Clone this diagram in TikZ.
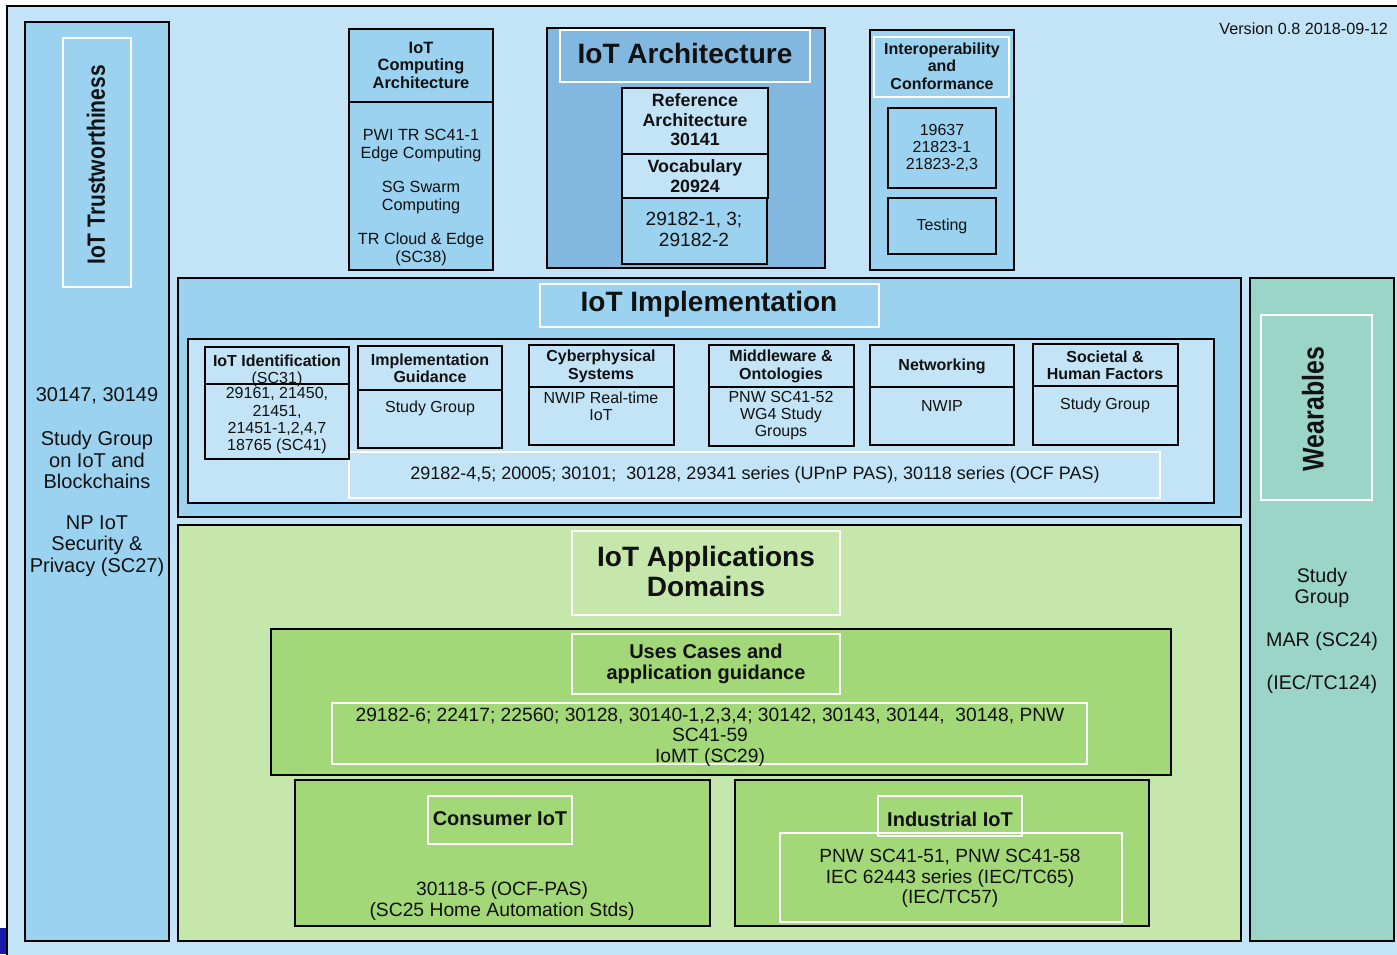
\documentclass[tikz,border=0pt]{standalone}
\usepackage{fontspec}
\setmainfont{Liberation Sans}
\usepackage{graphicx}

\definecolor{bgblue}{HTML}{C2E4F6}
\definecolor{midblue}{HTML}{9BD2F0}
\definecolor{archblue}{HTML}{82B8E0}
\definecolor{lightgreen}{HTML}{C6E7AC}
\definecolor{appgreen}{HTML}{A3D878}
\definecolor{wearteal}{HTML}{9BD5C8}
\definecolor{ink}{HTML}{111111}
\definecolor{cornerblue}{HTML}{1A1AA8}

\newcommand\fsz[2]{\fontsize{#1}{#2}\selectfont}

\begin{document}
\begin{tikzpicture}[x=1pt,y=-1pt,
  frame/.style={draw=black, line width=1.8pt, anchor=north west, inner sep=0pt, outer sep=0pt},
  wframe/.style={draw=white, line width=1.8pt, anchor=north west, inner sep=0pt, outer sep=0pt},
  sz/.style 2 args={minimum width=#1pt, minimum height=#2pt},
  lbl/.style={align=center, inner sep=0pt, text=ink, yshift=-2pt},
  head/.style={lbl, font=\bfseries\fsz{16}{17.3}},
  body/.style={lbl, font=\fsz{16}{17.3}},
  big/.style={lbl, yshift=0pt, font=\bfseries\fsz{28}{30}},
  midb/.style={lbl, yshift=0pt, font=\bfseries\fsz{20}{21}}]

\useasboundingbox (0,0) rectangle (1397,954);
\clip (0,0) rectangle (1397,954);
\fill[white] (0,0) rectangle (1397,954);

% outer frame
\node[frame, fill=bgblue, sz={1400}{960}] (outer) at (7,6) {};
\fill[cornerblue] (0,928) rectangle (6,954);

\node[lbl, anchor=east, font=\fsz{16.2}{18}] (version) at (1388,27) {Version 0.8 2018-09-12};

% ---- IoT Trustworthiness column
\node[frame, fill=midblue, sz={144}{919}] (trust) at (25,22) {};
\node[wframe, sz={68}{249}] (trusthead) at (63,38) {};
\node[lbl, rotate=90, yshift=0pt, font=\bfseries\fsz{25}{25}] (trusttitle) at (96,163) {\scalebox{0.84}[1]{IoT Trustworthiness}};
\node[lbl, font=\fsz{20}{21.5}] (trustA) at (97,394) {30147, 30149};
\node[lbl, font=\fsz{20}{21.5}] (trustB) at (97,458) {Study Group\\on IoT and\\Blockchains};
\node[lbl, font=\fsz{20}{21.5}] (trustC) at (97,544) {NP IoT\\Security \&\\Privacy (SC27)};

% ---- IoT Computing Architecture
\node[frame, fill=midblue, sz={144}{241}] (comp) at (349,29) {};
\node[frame, sz={144}{73}] (comphead) at (349,29) {};
\node[head, font=\bfseries\fsz{16.4}{17.5}] (comptitle) at (421,63) {IoT\\Computing\\Architecture};
\node[lbl, font=\fsz{16.2}{18}] (compbody) at (421,196)
  {PWI TR SC41-1\\Edge Computing\\[16pt]SG Swarm\\Computing\\[16pt]TR Cloud \& Edge\\(SC38)};

% ---- IoT Architecture
\node[frame, fill=archblue, sz={278}{240}] (arch) at (547,28) {};
\node[wframe, sz={250}{52}] (archhead) at (560,30) {};
\node[big] (archtitle) at (685,51) {IoT Architecture};
\node[frame, fill=bgblue, sz={146}{66}] (refarch) at (622,88) {};
\node[lbl, font=\bfseries\fsz{17.8}{19.5}] (refarchtxt) at (695,118) {Reference\\Architecture\\30141};
\node[frame, fill=bgblue, sz={146}{44}] (vocab) at (622,154) {};
\node[lbl, font=\bfseries\fsz{17.8}{19.5}] (vocabtxt) at (695,174) {Vocabulary\\20924};
\node[frame, fill=midblue, sz={145}{66}] (archstd) at (622,198) {};
\node[lbl, font=\fsz{19.1}{21}] (archstdtxt) at (694,227.5) {29182-1, 3;\\29182-2};

% ---- Interoperability and Conformance
\node[frame, fill=midblue, sz={144}{240}] (interop) at (870,30) {};
\node[wframe, sz={135}{60}] (interophead) at (874,37) {};
\node[head, font=\bfseries\fsz{16}{17.5}] (interoptitle) at (942,64) {Interoperability\\and\\Conformance};
\node[frame, sz={108}{80}] (interopstd) at (888,108) {};
\node[lbl, font=\fsz{16}{17}] (interopstdtxt) at (942,146) {19637\\21823-1\\21823-2,3};
\node[frame, sz={108}{56}] (testing) at (888,198) {};
\node[lbl, font=\fsz{16}{17}] (testingtxt) at (942,224) {Testing};

% ---- IoT Implementation
\node[frame, fill=midblue, sz={1063}{239}] (impl) at (178,278) {};
\node[wframe, sz={339}{43}] (implhead) at (540,284) {};
\node[big] (impltitle) at (709,302) {IoT Implementation};
\node[frame, fill=bgblue, sz={1026}{164}] (implinner) at (188,339) {};
\node[wframe, sz={811}{46}] (implstd) at (349,452) {};
\node[lbl, font=\fsz{18}{20}] (implstdtxt) at (755,473)
  {29182-4,5; 20005; 30101;\ \ 30128, 29341 series (UPnP PAS), 30118 series (OCF PAS)};

\node[frame, sz={144}{112}] (ident) at (205,347) {};
\node[frame, sz={144}{37}] (identhead) at (205,347) {};
\node[body] (identtitle) at (277,368.5) {\textbf{IoT Identification}\\(SC31)};
\node[body] (identtxt) at (277,419) {29161, 21450,\\21451,\\21451-1,2,4,7\\18765 (SC41)};

\node[frame, sz={144}{102}] (guide) at (358,346) {};
\node[frame, sz={144}{44}] (guidehead) at (358,346) {};
\node[head] (guidetitle) at (430,366.5) {Implementation\\Guidance};
\node[body] (guidetxt) at (430,406) {Study Group};

\node[frame, sz={145}{100}] (cps) at (529,345) {};
\node[frame, sz={145}{42}] (cpshead) at (529,345) {};
\node[head] (cpstitle) at (601,364.5) {Cyberphysical\\Systems};
\node[body] (cpstxt) at (601,404.5) {NWIP Real-time\\IoT};

\node[frame, sz={145}{101}] (mw) at (709,345) {};
\node[frame, sz={145}{42}] (mwhead) at (709,345) {};
\node[head] (mwtitle) at (781,364.5) {Middleware \&\\Ontologies};
\node[body] (mwtxt) at (781,413.5) {PNW SC41-52\\WG4 Study\\Groups};

\node[frame, sz={144}{100}] (net) at (870,345) {};
\node[frame, sz={144}{42}] (nethead) at (870,345) {};
\node[head] (nettitle) at (942,364) {Networking};
\node[body] (nettxt) at (942,404) {NWIP};

\node[frame, sz={145}{101}] (soc) at (1033,344) {};
\node[frame, sz={145}{42}] (sochead) at (1033,344) {};
\node[head] (soctitle) at (1105,363.5) {Societal \&\\Human Factors};
\node[body] (soctxt) at (1105,403) {Study Group};

% ---- IoT Applications Domains
\node[frame, fill=lightgreen, sz={1063}{416}] (apps) at (178,525) {};
\node[wframe, sz={268}{84}] (appshead) at (572,531) {};
\node[big] (appstitle) at (706,569) {IoT Applications\\Domains};

\node[frame, fill=appgreen, sz={900}{146}] (uses) at (271,629) {};
\node[wframe, sz={268}{60}] (useshead) at (572,634) {};
\node[midb] (usestitle) at (706,662) {Uses Cases and\\application guidance};
\node[wframe, sz={755}{61}] (usesstd) at (332,703) {};
\node[lbl, font=\fsz{19.2}{20.5}] (usesstdtxt) at (710,735)
  {29182-6; 22417; 22560; 30128, 30140-1,2,3,4; 30142, 30143, 30144,\ \ 30148, PNW\\SC41-59\\IoMT (SC29)};

\node[frame, fill=appgreen, sz={415}{146}] (cons) at (295,780) {};
\node[wframe, sz={144}{48}] (conshead) at (428,796) {};
\node[midb] (constitle) at (500,817) {Consumer IoT};
\node[lbl, font=\fsz{19.3}{21}] (constxt) at (502,898.5) {30118-5 (OCF-PAS)\\(SC25 Home Automation Stds)};

\node[frame, fill=appgreen, sz={414}{146}] (ind) at (735,780) {};
\node[wframe, sz={144}{40}] (indhead) at (878,796) {};
\node[wframe, sz={342}{89}] (indstd) at (780,833) {};
\node[midb] (indtitle) at (950,817) {Industrial IoT};
\node[lbl, font=\fsz{19.1}{20.5}] (indtxt) at (950,876.5)
  {PNW SC41-51, PNW SC41-58\\IEC 62443 series (IEC/TC65)\\(IEC/TC57)};

% ---- Wearables column
\node[frame, fill=wearteal, sz={144}{663}] (wear) at (1250,278) {};
\node[wframe, sz={111}{185}] (wearhead) at (1261,315) {};
\node[lbl, rotate=90, yshift=0pt, font=\bfseries\fsz{30}{30}] (weartitle) at (1313,407) {\scalebox{0.83}[1]{Wearables}};
\node[lbl, font=\fsz{19.7}{21}] (wearA) at (1322,585.5) {Study\\Group};
\node[lbl, font=\fsz{19.7}{21}] (wearB) at (1322,639) {MAR (SC24)};
\node[lbl, font=\fsz{19.7}{21}] (wearC) at (1322,682) {(IEC/TC124)};

\end{tikzpicture}
\end{document}
